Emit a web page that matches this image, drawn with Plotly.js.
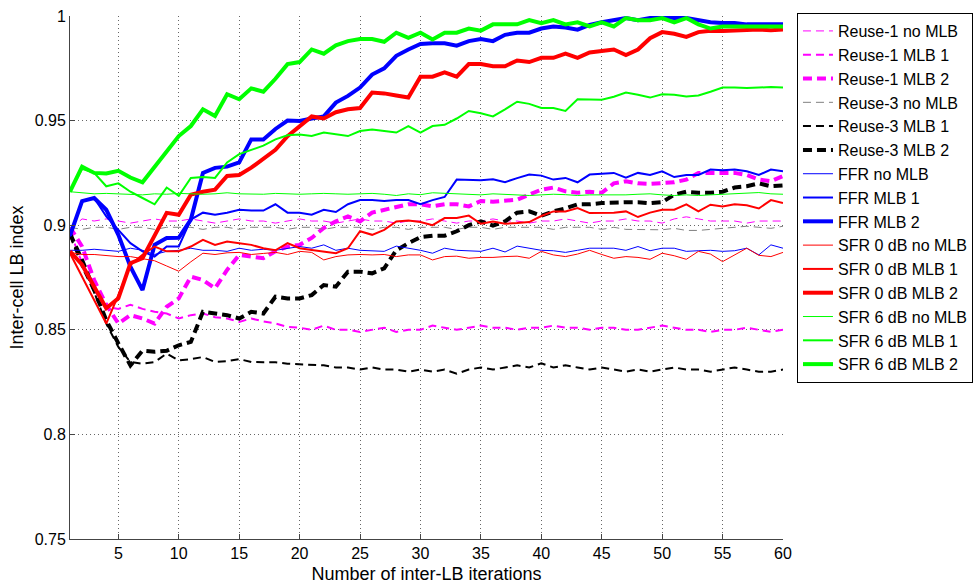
<!DOCTYPE html>
<html>
<head>
<meta charset="utf-8">
<script src="https://cdn.plot.ly/plotly-3.0.1.min.js"></script>
<style>
  html, body { margin: 0; padding: 0; background: #fff; }
  #chart { width: 974px; height: 587px; }
</style>
</head>
<body>
<div id="chart"></div>
<script>
// Iterations 1..60
const iterations = [1,2,3,4,5,6,7,8,9,10,11,12,13,14,15,16,17,18,19,20,21,22,23,24,25,26,27,28,29,30,31,32,33,34,35,36,37,38,39,40,41,42,43,44,45,46,47,48,49,50,51,52,53,54,55,56,57,58,59,60];

const seriesNames = [
  "Reuse-1 no MLB", "Reuse-1 MLB 1", "Reuse-1 MLB 2",
  "Reuse-3 no MLB", "Reuse-3 MLB 1", "Reuse-3 MLB 2",
  "FFR no MLB", "FFR MLB 1", "FFR MLB 2",
  "SFR 0 dB no MLB", "SFR 0 dB MLB 1", "SFR 0 dB MLB 2",
  "SFR 6 dB no MLB", "SFR 6 dB MLB 1", "SFR 6 dB MLB 2"
];

const reuse1NoMLB = [0.898,0.903,0.902,0.903,0.902,0.901,0.902,0.903,0.902,0.902,0.903,0.902,0.901,0.902,0.903,0.902,0.902,0.901,0.902,0.903,0.902,0.902,0.901,0.902,0.903,0.902,0.902,0.901,0.902,0.902,0.903,0.902,0.901,0.902,0.902,0.903,0.902,0.902,0.901,0.902,0.902,0.903,0.902,0.901,0.902,0.902,0.903,0.902,0.902,0.901,0.903,0.904,0.903,0.902,0.902,0.902,0.901,0.902,0.902,0.902];
const reuse1MLB1 = [0.897,0.882,0.869,0.861,0.860,0.862,0.860,0.8586,0.8578,0.8554,0.857,0.8578,0.856,0.8554,0.8538,0.8554,0.854,0.853,0.8514,0.851,0.850,0.852,0.850,0.850,0.849,0.850,0.851,0.849,0.850,0.850,0.852,0.851,0.850,0.851,0.852,0.851,0.851,0.850,0.851,0.851,0.852,0.851,0.851,0.850,0.851,0.851,0.850,0.850,0.851,0.852,0.851,0.850,0.850,0.849,0.850,0.850,0.851,0.850,0.849,0.850];
const reuse1MLB2 = [0.899,0.8898,0.8738,0.862,0.853,0.857,0.8554,0.853,0.861,0.865,0.8754,0.8738,0.8698,0.8786,0.8858,0.885,0.8842,0.8875,0.8898,0.8906,0.8939,0.8987,0.9018,0.9042,0.9018,0.906,0.9074,0.9087,0.910,0.910,0.909,0.910,0.910,0.909,0.9116,0.9112,0.9116,0.9122,0.9146,0.917,0.918,0.9162,0.9155,0.916,0.9155,0.920,0.921,0.920,0.9198,0.920,0.9205,0.9218,0.925,0.925,0.925,0.925,0.924,0.9218,0.921,0.9235];
const reuse3NoMLB = [0.899,0.898,0.899,0.899,0.898,0.899,0.899,0.898,0.899,0.899,0.899,0.898,0.899,0.899,0.898,0.899,0.899,0.899,0.898,0.899,0.899,0.898,0.899,0.899,0.899,0.898,0.899,0.899,0.898,0.899,0.899,0.899,0.898,0.899,0.899,0.898,0.899,0.899,0.899,0.899,0.898,0.899,0.899,0.899,0.898,0.899,0.898,0.898,0.898,0.8978,0.8985,0.8975,0.8975,0.898,0.8985,0.899,0.8995,0.899,0.8985,0.8995];
const reuse3MLB1 = [0.895,0.880,0.868,0.853,0.8418,0.8346,0.8338,0.8346,0.8386,0.8354,0.836,0.837,0.8346,0.835,0.836,0.8346,0.8345,0.8345,0.8338,0.8335,0.833,0.833,0.832,0.832,0.831,0.832,0.831,0.831,0.830,0.831,0.830,0.831,0.829,0.831,0.832,0.831,0.832,0.833,0.832,0.834,0.832,0.833,0.832,0.831,0.832,0.831,0.830,0.831,0.830,0.831,0.832,0.831,0.831,0.830,0.831,0.832,0.831,0.830,0.830,0.831];
const reuse3MLB2 = [0.896,0.8834,0.869,0.8546,0.8435,0.833,0.840,0.8395,0.840,0.8426,0.8442,0.8586,0.8578,0.857,0.8554,0.8586,0.8578,0.8658,0.865,0.865,0.8666,0.8714,0.8706,0.8778,0.8778,0.877,0.8794,0.888,0.8914,0.8943,0.895,0.895,0.8971,0.900,0.9018,0.8998,0.9018,0.906,0.9066,0.9045,0.9066,0.908,0.910,0.910,0.9106,0.911,0.911,0.911,0.9105,0.911,0.9146,0.916,0.9155,0.9155,0.916,0.918,0.9186,0.920,0.9186,0.919];
const ffrNoMLB = [0.888,0.888,0.8885,0.888,0.8875,0.889,0.888,0.886,0.8875,0.888,0.889,0.888,0.888,0.8875,0.889,0.888,0.8885,0.888,0.889,0.8898,0.889,0.8906,0.888,0.889,0.888,0.8878,0.8875,0.890,0.889,0.888,0.8866,0.889,0.888,0.8878,0.8875,0.889,0.8872,0.890,0.889,0.888,0.8878,0.887,0.888,0.889,0.889,0.889,0.888,0.8898,0.8878,0.889,0.889,0.8875,0.8878,0.888,0.8875,0.8878,0.889,0.8858,0.8906,0.889];
const ffrMLB1 = [0.8946,0.9115,0.913,0.9042,0.8978,0.8914,0.8875,0.885,0.8898,0.8898,0.9027,0.906,0.905,0.906,0.9074,0.907,0.907,0.910,0.906,0.906,0.905,0.9074,0.9063,0.910,0.912,0.912,0.9116,0.912,0.912,0.910,0.912,0.9135,0.9218,0.9215,0.9215,0.922,0.9206,0.9225,0.9242,0.9237,0.9218,0.9226,0.9205,0.9242,0.9245,0.925,0.9227,0.925,0.924,0.9258,0.923,0.924,0.924,0.9266,0.9263,0.9266,0.9258,0.924,0.9266,0.9258];
const ffrMLB2 = [0.895,0.9115,0.913,0.9074,0.8954,0.8802,0.869,0.8906,0.8939,0.894,0.9027,0.925,0.9274,0.928,0.930,0.941,0.941,0.946,0.950,0.9498,0.951,0.952,0.9586,0.9618,0.9658,0.972,0.975,0.981,0.984,0.9866,0.987,0.987,0.9858,0.988,0.989,0.988,0.991,0.992,0.992,0.994,0.995,0.9945,0.9935,0.9957,0.997,0.998,0.999,0.998,0.999,0.9995,0.999,0.999,0.998,0.997,0.9966,0.9966,0.996,0.996,0.996,0.996];
const sfr0NoMLB = [0.887,0.886,0.886,0.8855,0.885,0.885,0.884,0.883,0.8805,0.878,0.8825,0.8866,0.886,0.8868,0.887,0.886,0.8865,0.887,0.886,0.8875,0.887,0.8834,0.885,0.8858,0.886,0.8858,0.886,0.885,0.8858,0.8858,0.8834,0.885,0.8852,0.8842,0.8846,0.8846,0.885,0.8852,0.8842,0.8875,0.8858,0.885,0.8862,0.888,0.886,0.8842,0.885,0.8846,0.8837,0.8866,0.8854,0.8837,0.8875,0.8862,0.8826,0.886,0.889,0.8856,0.885,0.887];
const sfr0MLB1 = [0.8866,0.8754,0.864,0.853,0.8666,0.881,0.8858,0.8898,0.8875,0.8875,0.8898,0.893,0.8906,0.8922,0.8914,0.8906,0.889,0.888,0.8914,0.889,0.8882,0.8875,0.8866,0.889,0.8971,0.8954,0.8978,0.9018,0.9023,0.9015,0.900,0.9034,0.9034,0.9046,0.9007,0.9018,0.9007,0.901,0.9015,0.9044,0.9066,0.9066,0.9082,0.9058,0.906,0.906,0.9066,0.9039,0.906,0.9074,0.9074,0.910,0.9066,0.9098,0.909,0.910,0.9095,0.908,0.912,0.9106];
const sfr0MLB2 = [0.8875,0.8811,0.8706,0.8603,0.865,0.8818,0.8842,0.8947,0.9059,0.905,0.9146,0.916,0.917,0.9235,0.924,0.9275,0.9315,0.936,0.9426,0.9475,0.952,0.951,0.954,0.9554,0.956,0.9634,0.963,0.962,0.961,0.971,0.971,0.973,0.971,0.977,0.977,0.976,0.976,0.9787,0.978,0.980,0.980,0.982,0.980,0.9826,0.9834,0.984,0.9813,0.984,0.9894,0.9923,0.9915,0.990,0.9923,0.993,0.9928,0.993,0.9932,0.9935,0.9932,0.9935];
const sfr6NoMLB = [0.916,0.9155,0.915,0.9152,0.915,0.9148,0.9145,0.915,0.9148,0.9152,0.915,0.9148,0.915,0.9155,0.915,0.915,0.9148,0.9152,0.915,0.9148,0.915,0.9152,0.915,0.9148,0.915,0.9152,0.9148,0.9142,0.915,0.9146,0.9155,0.9152,0.915,0.9148,0.9145,0.915,0.9148,0.9145,0.9142,0.9145,0.9148,0.9146,0.9142,0.9145,0.9145,0.9142,0.9145,0.9148,0.915,0.9145,0.9142,0.9145,0.9142,0.9145,0.9148,0.915,0.9152,0.9156,0.915,0.9148];
const sfr6MLB1 = [0.916,0.927,0.925,0.9186,0.920,0.916,0.913,0.910,0.918,0.914,0.9226,0.923,0.9226,0.930,0.934,0.936,0.938,0.941,0.943,0.9434,0.9427,0.9443,0.9434,0.9426,0.945,0.9458,0.945,0.9443,0.9474,0.9443,0.9474,0.948,0.951,0.9546,0.9535,0.952,0.9554,0.959,0.958,0.956,0.956,0.9546,0.9602,0.9602,0.960,0.9614,0.9634,0.9624,0.961,0.9626,0.9624,0.9615,0.962,0.9638,0.9658,0.9658,0.9656,0.9658,0.9661,0.9658];
const sfr6MLB2 = [0.916,0.928,0.925,0.9247,0.926,0.9228,0.9205,0.928,0.935,0.9426,0.9474,0.9554,0.9522,0.9626,0.9602,0.9654,0.9638,0.970,0.977,0.978,0.984,0.982,0.986,0.988,0.989,0.989,0.9877,0.992,0.9896,0.992,0.9888,0.992,0.992,0.994,0.993,0.996,0.996,0.996,0.998,0.9966,0.998,0.996,0.997,0.995,0.997,0.995,0.999,0.998,0.998,0.999,0.997,0.999,0.996,0.994,0.995,0.995,0.995,0.995,0.995,0.995];

const xTickVals = [5,10,15,20,25,30,35,40,45,50,55,60];
const yTickVals = [0.75,0.8,0.85,0.9,0.95,1];
const yTickText = ["0.75","0.8","0.85","0.9","0.95","1"];

const seriesValues = [reuse1NoMLB, reuse1MLB1, reuse1MLB2, reuse3NoMLB, reuse3MLB1, reuse3MLB2,
  ffrNoMLB, ffrMLB1, ffrMLB2, sfr0NoMLB, sfr0MLB1, sfr0MLB2, sfr6NoMLB, sfr6MLB1, sfr6MLB2];

const colors = ["#ff00ff","#ff00ff","#ff00ff","#808080","#000000","#000000",
  "#0000ff","#0000ff","#0000ff","#ff0000","#ff0000","#ff0000","#00ff00","#00ff00","#00ff00"];
const widths = [1,2,4,1,2,4,1,2,4,1,2,4,1,2,4];
const dashes = ["8px,5px","8px,5px","9px,5px","8px,5px","8px,5px","9px,5px",
  "solid","solid","solid","solid","solid","solid","solid","solid","solid"];

const traces = seriesNames.map((name, i) => ({
  type: "scatter",
  mode: "lines",
  name: name,
  x: iterations,
  y: seriesValues[i],
  line: { color: colors[i], width: widths[i], dash: dashes[i] }
}));

const font = { family: "Liberation Sans, Arial, sans-serif", size: 16, color: "#000" };

const layout = {
  width: 974,
  height: 587,
  paper_bgcolor: "#fff",
  plot_bgcolor: "#fff",
  font: font,
  margin: { l: 70, r: 191, t: 16, b: 48, autoexpand: false },
  showlegend: true,
  legend: {
    x: 1.0196, y: 1.0057, xanchor: "left", yanchor: "top",
    bgcolor: "#fff", bordercolor: "#000", borderwidth: 1,
    font: { family: font.family, size: 16, color: "#000" },
    tracegroupgap: 0,
    maxheight: 500
  },
  xaxis: {
    range: [1, 60],
    tickvals: xTickVals,
    ticks: "inside", ticklen: 5, tickcolor: "#444",
    showgrid: true, gridcolor: "#666", griddash: "1px,3px", gridwidth: 1,
    showline: true, linecolor: "#444", linewidth: 1, mirror: false,
    zeroline: false,
    title: { text: "Number of inter-LB iterations", font: { family: font.family, size: 18 }, standoff: 6 }
  },
  yaxis: {
    range: [0.75, 1],
    tickvals: yTickVals, ticktext: yTickText,
    ticks: "inside", ticklen: 5, tickcolor: "#444",
    showgrid: true, gridcolor: "#666", griddash: "1px,3px", gridwidth: 1,
    showline: true, linecolor: "#444", linewidth: 1, mirror: false,
    zeroline: false,
    title: { text: "Inter-cell LB index", font: { family: font.family, size: 18 }, standoff: 6 }
  }
};

Plotly.newPlot("chart", traces, layout, { displayModeBar: false, staticPlot: true });
</script>
</body>
</html>
